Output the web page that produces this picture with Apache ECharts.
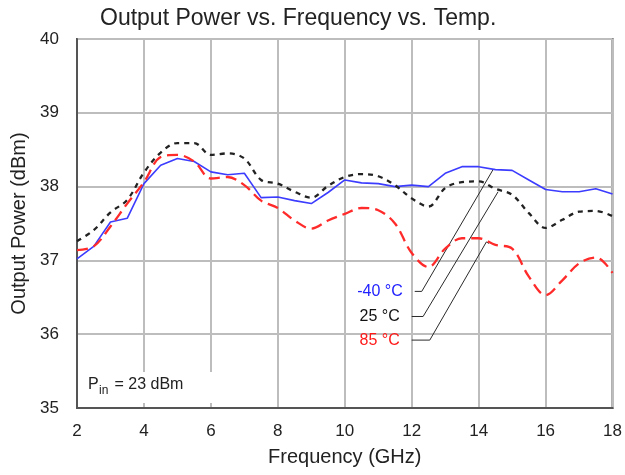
<!DOCTYPE html>
<html>
<head>
<meta charset="utf-8">
<script src="https://cdn.jsdelivr.net/npm/echarts@6/dist/echarts.min.js"></script>
<style>
  html, body { margin: 0; padding: 0; background: #fff; }
  #main { width: 625px; height: 475px; }
</style>
</head>
<body>
<div id="main"></div>
<script>
// frequency points (GHz)
var freq = [2, 2.5, 3, 3.5, 4, 4.5, 5, 5.5, 6, 6.5, 7, 7.5, 8, 8.5, 9, 9.5, 10,
            10.5, 11, 11.5, 12, 12.5, 13, 13.5, 14, 14.5, 15, 15.5, 16, 16.5, 17, 17.5, 18];

// output power (dBm) per temperature
var pMinus40 = [37.02, 37.19, 37.52, 37.57, 38.04, 38.29, 38.38, 38.34, 38.20, 38.16, 38.18,
                37.85, 37.86, 37.81, 37.77, 37.92, 38.09, 38.05, 38.04, 38.00, 38.02, 38.00,
                38.18, 38.27, 38.27, 38.23, 38.22, 38.09, 37.96, 37.93, 37.93, 37.97, 37.90];
var p25 = [37.26, 37.41, 37.65, 37.82, 38.19, 38.46, 38.59, 38.59, 38.43, 38.45, 38.38,
           38.09, 38.04, 37.93, 37.85, 38.01, 38.13, 38.17, 38.14, 38.02, 37.84, 37.73,
           37.98, 38.06, 38.07, 37.97, 37.89, 37.64, 37.44, 37.55, 37.66, 37.67, 37.60];
var p85 = [37.14, 37.19, 37.46, 37.77, 38.06, 38.40, 38.43, 38.34, 38.11, 38.13, 38.02,
           37.81, 37.71, 37.54, 37.43, 37.54, 37.63, 37.71, 37.68, 37.50, 37.10, 36.91,
           37.16, 37.30, 37.30, 37.21, 37.16, 36.78, 36.53, 36.73, 36.96, 37.04, 36.83];

// leader lines for the temperature labels (data coordinates)
var leaderMinus40 = [[12.09, 36.58], [12.30, 36.58], [14.43, 38.23]];
var leader25 = [[12.00, 36.24], [12.34, 36.24], [14.58, 37.93]];
var leader85 = [[12.00, 35.92], [12.54, 35.92], [14.23, 37.25], [14.31, 37.23]];

var labelNames = ['-40 °C', '25 °C', '85 °C'];
var labelColors = ['#2222ff', '#111', '#ff1a1a'];
var xTicks = [2, 4, 6, 8, 10, 12, 14, 16, 18];

var FONT = 'Liberation Sans';

function pairs(xs, ys) {
  return xs.map(function (x, i) { return [x, ys[i]]; });
}

function leader(points) {
  return {
    type: 'line', data: points, symbol: 'none', silent: true, z: 4,
    lineStyle: { color: '#2a2a2a', width: 1 }
  };
}

// P_in note with its white box
var noteGraphics = [
  {
    id: 'noteBox', type: 'rect', z: 10, silent: true,
    shape: { x: 80, y: 372, width: 137, height: 31 },
    style: { fill: '#fff' }
  },
  {
    id: 'noteP', type: 'text', z: 11, left: 88, top: 377,
    style: { text: 'P', font: '16px "Liberation Sans"', fill: '#222' }
  },
  {
    id: 'noteSub', type: 'text', z: 11, left: 99, top: 385,
    style: { text: 'in', font: '12px "Liberation Sans"', fill: '#222' }
  },
  {
    id: 'noteRest', type: 'text', z: 11, left: 110, top: 377,
    style: { text: ' = 23 dBm', font: '16px "Liberation Sans"', fill: '#222' }
  }
];

var chart = echarts.init(document.getElementById('main'));

var option = {
  animation: false,
  backgroundColor: '#fff',
  title: {
    text: 'Output Power vs. Frequency vs. Temp.',
    left: 100, top: 7, padding: 0,
    textStyle: { fontFamily: FONT, fontSize: 23, fontWeight: 'normal', color: '#222' }
  },
  grid: {
    left: 77, right: 12, top: 39, bottom: 67,
    show: true, borderColor: '#555', borderWidth: 2
  },
  xAxis: {
    type: 'value', min: 2, max: 18, interval: 2,
    name: 'Frequency (GHz)', nameLocation: 'middle', nameGap: 39,
    nameTextStyle: { fontFamily: FONT, fontSize: 20, color: '#222' },
    axisLine: { lineStyle: { color: '#555', width: 2 } },
    axisTick: { show: false },
    axisLabel: {
      margin: 15, fontFamily: FONT, fontSize: 17, color: '#222',
      formatter: function (v) { return xTicks.indexOf(v) >= 0 ? String(v) : ''; }
    },
    splitLine: { show: true, lineStyle: { color: '#bdbdbd', width: 2 } }
  },
  yAxis: {
    type: 'value', min: 35, max: 40, interval: 1,
    name: 'Output Power (dBm)', nameLocation: 'middle', nameGap: 48, nameRotate: 90,
    nameTextStyle: { fontFamily: FONT, fontSize: 20, color: '#222' },
    axisLine: { show: true, lineStyle: { color: '#555', width: 2 } },
    axisTick: { show: false },
    axisLabel: { margin: 18, fontFamily: FONT, fontSize: 17, color: '#222' },
    splitLine: { show: true, lineStyle: { color: '#bdbdbd', width: 2 } }
  },
  series: [
    {
      name: '-40 °C', type: 'line', data: pairs(freq, pMinus40), symbol: 'none', z: 5,
      lineStyle: { color: '#3c3cff', width: 1.6 }
    },
    {
      name: '25 °C', type: 'line', data: pairs(freq, p25), symbol: 'none', smooth: 0.35, z: 5,
      lineStyle: { color: '#222', width: 2.3, type: [5, 5] }
    },
    {
      name: '85 °C', type: 'line', data: pairs(freq, p85), symbol: 'none', smooth: 0.35, z: 5,
      lineStyle: { color: '#ff2a2a', width: 2.3, type: [11, 6] }
    },
    leader(leaderMinus40),
    leader(leader25),
    leader(leader85)
  ],
  graphic: noteGraphics
};

chart.setOption(option);

// temperature labels placed left of each leader's start point
var starts = [leaderMinus40[0], leader25[0], leader85[0]];
var labelGraphics = starts.map(function (pt, i) {
  var px = chart.convertToPixel({ gridIndex: 0 }, pt);
  return {
    id: 'tempLabel' + i, type: 'text', z: 11, x: px[0] - 12, y: px[1],
    style: {
      text: labelNames[i], fill: labelColors[i],
      font: '16px "Liberation Sans"', align: 'right', verticalAlign: 'middle'
    }
  };
});
chart.setOption({ graphic: noteGraphics.concat(labelGraphics) });
</script>
</body>
</html>
